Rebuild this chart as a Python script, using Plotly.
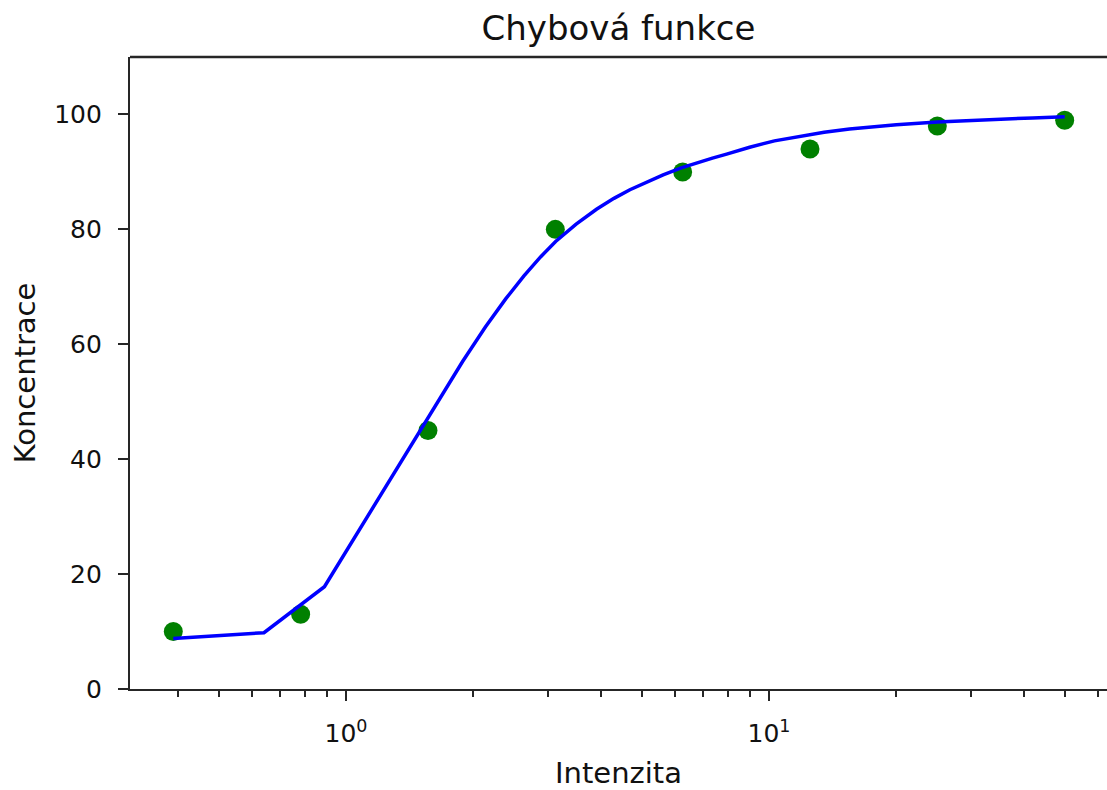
import plotly.graph_objects as go

# Measured data (green points)
intenzita = [0.390625, 0.78125, 1.5625, 3.125, 6.25, 12.5, 25.0, 50.0]
koncentrace = [10, 13, 45, 80, 90, 94, 98, 99]

# Fitted curve
fit_x = [0.3906, 0.6399, 0.8892, 1.1385, 1.3878, 1.6371, 1.8864, 2.1357, 2.385,
         2.6343, 2.8836, 3.13, 3.5, 3.91, 4.3, 4.69, 5.15, 5.62, 6.2, 6.75, 7.35,
         7.94, 9.0, 10.3, 11.8, 13.5, 15.5, 17.7, 20.0, 25.0, 30.0, 35.0, 42.0, 50.0]
fit_y = [8.8, 9.8, 17.8, 30.6, 41.0, 49.7, 57.0, 63.0, 67.9,
         71.9, 75.2, 77.9, 80.9, 83.5, 85.4, 86.9, 88.3, 89.5, 90.7, 91.6, 92.4,
         93.1, 94.3, 95.4, 96.2, 96.9, 97.45, 97.85, 98.2, 98.7, 99.0, 99.2, 99.4, 99.6]

x_major = [1, 10]
x_major_text = ["10<sup>0</sup>", "10<sup>1</sup>"]
x_minor = [0.4, 0.5, 0.6, 0.7, 0.8, 0.9, 2, 3, 4, 5, 6, 7, 8, 9, 20, 30, 40, 50, 60]
y_ticks = [0, 20, 40, 60, 80, 100]

FONT = "DejaVu Sans"
AX = "#262626"
TXT = "#111111"

fig = go.Figure()
fig.add_trace(go.Scatter(x=intenzita, y=koncentrace, mode="markers",
                         marker=dict(color="#008000", size=19, line=dict(width=0)),
                         showlegend=False))
fig.add_trace(go.Scatter(x=fit_x, y=fit_y, mode="lines",
                         line=dict(color="#0000ff", width=3.5),
                         showlegend=False))

fig.update_layout(
    width=1107, height=790,
    margin=dict(l=130, r=0, t=57, b=101),
    paper_bgcolor="white", plot_bgcolor="white",
    font=dict(family=FONT, color=TXT),
    title=dict(text="Chybová funkce", x=0.5, xref="paper", xanchor="center",
               y=1 - 28 / 790, yref="container", yanchor="middle",
               font=dict(size=34, family=FONT, color=TXT)),
    xaxis=dict(type="log", range=[-0.5106, 1.799],
               showgrid=False, zeroline=False,
               showline=True, linecolor=AX, linewidth=2.3,
               ticks="outside", ticklen=10, tickwidth=2.3, tickcolor=AX,
               tickmode="array", tickvals=x_major, ticktext=x_major_text,
               ticklabelstandoff=11,
               tickfont=dict(size=25, family=FONT, color=TXT),
               minor=dict(tickmode="array", tickvals=x_minor, ticks="outside",
                          ticklen=6, tickwidth=1.8, tickcolor=AX, showgrid=False),
               title=dict(text="Intenzita", font=dict(size=29, family=FONT, color=TXT),
                          standoff=17)),
    yaxis=dict(range=[0, 110], showgrid=False, zeroline=False,
               showline=True, linecolor=AX, linewidth=2.3,
               ticks="outside", ticklen=10, tickwidth=2.3, tickcolor=AX,
               tickmode="array", tickvals=y_ticks,
               ticklabelstandoff=11,
               tickfont=dict(size=25, family=FONT, color=TXT),
               title=dict(text="Koncentrace", font=dict(size=29, family=FONT, color=TXT),
                          standoff=10)),
    shapes=[dict(type="line", xref="paper", yref="paper", x0=0, x1=1, y0=1, y1=1,
                 line=dict(color=AX, width=2.3))],
)

fig.write_html("out.html")
